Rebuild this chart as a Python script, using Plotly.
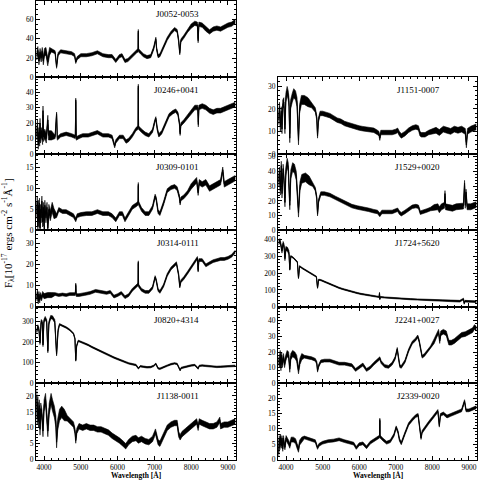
import plotly.graph_objects as go
from bisect import bisect_right

# ---------------- data ----------------
J0052_wl = [3800, 3830, 3860, 3890, 3920, 3950, 3980, 4010, 4050, 4100, 4150, 4200, 4300, 4340, 4380, 4450, 4600, 4750, 4830, 4861, 4900, 5000, 5150, 5300, 5450, 5600, 5750, 5850, 5950, 6050, 6120, 6200, 6280, 6400, 6520, 6556, 6563, 6570, 6620, 6700, 6800, 6900, 6980, 7040, 7060, 7100, 7150, 7250, 7350, 7450, 7550, 7620, 7660, 7690, 7720, 7800, 7900, 8000, 8100, 8170, 8190, 8210, 8300, 8400, 8500, 8600, 8700, 8800, 8900, 9000, 9100, 9200]
J0052_f = [22, 28, 17, 26, 20, 27, 17, 26, 27, 16, 27, 28, 26, 11, 24, 27, 26, 25, 23, 16, 20, 23, 23, 24, 26, 23, 22, 22, 17, 22, 23, 17, 18, 23, 27, 28, 48, 28, 26, 23, 21, 22, 30, 40, 30, 22, 23, 31, 40, 46, 50, 48, 38, 25, 38, 42, 48, 53, 56, 55, 38, 55, 54, 50, 47, 50, 51, 50, 52, 54, 55, 58]
J0052_noise_edges = [4200, 8000]
J0052_noise = [4, 1.6, 2.2]

J0246_wl = [3800, 3820, 3840, 3860, 3880, 3889, 3900, 3930, 3960, 3970, 3985, 4020, 4060, 4102, 4120, 4200, 4300, 4340, 4360, 4450, 4600, 4750, 4850, 4861, 4875, 4950, 5050, 5200, 5350, 5450, 5600, 5750, 5850, 5920, 5950, 6050, 6150, 6230, 6300, 6400, 6500, 6556, 6563, 6570, 6650, 6750, 6850, 6950, 7010, 7040, 7080, 7120, 7200, 7300, 7400, 7500, 7580, 7640, 7680, 7700, 7720, 7800, 7900, 8000, 8100, 8180, 8195, 8210, 8300, 8400, 8500, 8600, 8700, 8800, 8900, 9000, 9100, 9200]
J0246_f = [12, 19, 6, 14, 8, 20, 10, 14, 9, 28, 11, 13, 10, 22, 12, 12, 11, 26, 10, 12, 13, 12, 11, 35, 10, 11, 12, 12, 13, 14, 12, 12, 11, 5, 8, 11, 11, 8, 9, 12, 16, 17, 44, 17, 15, 13, 12, 15, 21, 23, 16, 12, 14, 20, 25, 27, 28, 26, 20, 13, 19, 21, 24, 27, 30, 30, 19, 30, 31, 30, 28, 27, 28, 28, 29, 30, 31, 32]
J0246_noise_edges = [4300, 8000]
J0246_noise = [3, 1.1, 1.5]

J0309_wl = [3800, 3815, 3830, 3845, 3860, 3875, 3890, 3905, 3920, 3940, 3960, 3980, 4000, 4020, 4050, 4080, 4100, 4130, 4170, 4220, 4270, 4340, 4400, 4500, 4600, 4700, 4800, 4861, 4900, 5000, 5150, 5300, 5450, 5600, 5750, 5850, 5950, 6050, 6130, 6200, 6300, 6400, 6520, 6556, 6563, 6570, 6650, 6750, 6850, 6950, 7020, 7050, 7100, 7150, 7250, 7350, 7450, 7550, 7620, 7680, 7700, 7720, 7800, 7900, 8000, 8100, 8150, 8190, 8220, 8300, 8400, 8500, 8600, 8700, 8800, 8860, 8900, 9000, 9100, 9200]
J0309_f = [4, 7, 1, 6, 2, 6.5, 0.5, 5, 3, 7, 2, 5.5, 1, 6, 3, 5.5, 0.5, 5, 3.5, 5.5, 4, 3.5, 5, 4.5, 4.5, 4, 3.5, 2.5, 3.5, 3.8, 4, 4, 4.5, 4, 4, 3.5, 2.5, 4, 4, 2.5, 4, 5.5, 6.2, 6.5, 11, 6.5, 5, 4, 4, 5.5, 8.2, 7.5, 4.5, 4, 6.5, 9.5, 10.2, 10.5, 10, 8, 6.5, 7.5, 8, 9, 10.5, 11.5, 12, 9, 11.5, 11, 11.5, 10, 10.5, 11, 11.5, 14.5, 11, 11.5, 12, 12.5]
J0309_noise_edges = [4300, 8000]
J0309_noise = [1.2, 0.45, 0.65]

J0314_wl = [3800, 3820, 3840, 3860, 3880, 3900, 3930, 3960, 4000, 4100, 4200, 4300, 4400, 4500, 4600, 4700, 4850, 4861, 4875, 4950, 5100, 5250, 5400, 5550, 5700, 5800, 5900, 6000, 6100, 6200, 6300, 6400, 6520, 6556, 6563, 6570, 6650, 6750, 6850, 6950, 7020, 7050, 7100, 7150, 7250, 7350, 7450, 7550, 7600, 7660, 7690, 7720, 7800, 7900, 8000, 8100, 8170, 8190, 8210, 8300, 8400, 8500, 8600, 8700, 8800, 8900, 9000, 9100, 9200]
J0314_f = [4, 7, 2.5, 6, 3, 5.5, 4, 6, 5, 5.5, 5.5, 6, 5.5, 5.8, 5.5, 6, 6, 10.5, 5.5, 5.5, 6, 6.5, 7.5, 7, 6.5, 7, 4.8, 5.5, 6.5, 4.5, 5.5, 8, 10, 10.5, 21, 10, 8, 7, 7, 9, 14, 12.5, 8, 7, 10, 15, 18, 20, 20.5, 15, 9.5, 12, 13.5, 16, 18.5, 21, 23, 17, 22, 22, 19.5, 20.5, 21.5, 22, 22.5, 22.5, 23, 24, 26]
J0314_noise_edges = [4300]
J0314_noise = [1.2, 0.65]

J0820_wl = [3800, 3830, 3860, 3889, 3920, 3950, 3970, 3995, 4030, 4070, 4102, 4130, 4180, 4230, 4290, 4340, 4380, 4420, 4500, 4600, 4700, 4800, 4840, 4861, 4885, 4930, 5000, 5100, 5200, 5300, 5400, 5500, 5600, 5700, 5800, 5900, 6000, 6100, 6200, 6300, 6400, 6500, 6563, 6620, 6700, 6800, 6900, 6980, 7040, 7060, 7100, 7150, 7250, 7350, 7450, 7550, 7620, 7670, 7700, 7730, 7800, 7900, 8000, 8100, 8190, 8220, 8300, 8400, 8500, 8600, 8700, 8800, 8900, 9000, 9100, 9200]
J0820_f = [250, 275, 260, 195, 300, 295, 185, 300, 315, 300, 155, 290, 320, 318, 300, 140, 255, 285, 278, 270, 258, 240, 215, 110, 180, 205, 200, 193, 185, 175, 166, 158, 148, 139, 131, 124, 117, 109, 102, 96, 92, 88, 72, 82, 80, 77, 78, 84, 94, 84, 72, 70, 76, 85, 92, 96, 93, 70, 63, 74, 78, 82, 86, 88, 71, 84, 86, 84, 82, 80, 79, 80, 81, 82, 83, 84]
J0820_noise_edges = [4400]
J0820_noise = [8, 3.5]

J1138_wl = [3800, 3815, 3830, 3850, 3870, 3889, 3910, 3940, 3970, 4000, 4040, 4070, 4102, 4140, 4190, 4230, 4280, 4320, 4340, 4370, 4420, 4480, 4550, 4630, 4720, 4800, 4840, 4861, 4890, 4950, 5050, 5150, 5250, 5350, 5450, 5550, 5650, 5750, 5850, 5950, 6050, 6150, 6220, 6300, 6400, 6500, 6563, 6650, 6750, 6850, 6950, 7030, 7060, 7100, 7150, 7250, 7350, 7450, 7550, 7620, 7660, 7700, 7750, 7850, 7950, 8050, 8150, 8190, 8220, 8300, 8400, 8500, 8600, 8700, 8780, 8800, 8900, 9000, 9100, 9200]
J1138_f = [20, 13, 18, 12, 17, 9.5, 16, 14, 9, 17, 19, 15, 9, 16, 19, 17, 15, 12, 5.5, 11, 14, 15, 14, 13, 12, 11, 9, 6, 9, 10.5, 10, 10.5, 10, 10, 9.5, 9.5, 9, 8.5, 7.5, 6.8, 6, 5, 4.2, 5.5, 6.5, 6.8, 6, 6.5, 5.8, 5.5, 6.5, 8.8, 7.5, 5.5, 5, 7.5, 10, 11, 11.5, 11.5, 8, 7, 8, 9, 10, 11, 12, 10, 12, 11.5, 11, 10.5, 10.5, 11, 12.5, 10.5, 11, 11, 11.5, 12]
J1138_noise_edges = [4600]
J1138_noise = [1.8, 0.85]

J1151_wl = [3800, 3820, 3845, 3870, 3889, 3910, 3940, 3970, 3995, 4030, 4060, 4080, 4102, 4125, 4170, 4210, 4260, 4300, 4340, 4370, 4420, 4500, 4600, 4700, 4800, 4840, 4861, 4885, 4930, 5000, 5100, 5200, 5300, 5400, 5500, 5600, 5700, 5800, 5900, 6000, 6100, 6200, 6300, 6400, 6500, 6540, 6563, 6590, 6700, 6800, 6900, 7000, 7050, 7100, 7150, 7250, 7350, 7450, 7550, 7620, 7660, 7700, 7800, 7900, 8000, 8100, 8190, 8300, 8400, 8500, 8600, 8700, 8800, 8900, 8930, 8960, 9050, 9150, 9200]
J1151_f = [15, 21, 12, 19, 11, 22, 23, 11, 25, 28, 26, 23, 7, 22, 25, 27, 26, 23, 6, 20, 24, 24, 23, 21.5, 19.5, 16, 8, 15, 18, 18, 17.5, 17, 16, 15, 14.5, 13.5, 13, 12.5, 11.8, 11.5, 11.2, 11, 11, 10.5, 9.5, 9, 7, 9.5, 9.5, 9.5, 9.5, 10, 10.5, 9, 8, 9, 10.5, 11.5, 12, 11.5, 9, 8.5, 8.5, 9.5, 10, 10.5, 9.5, 11, 10.5, 10, 11, 10.5, 11, 10, 4, 10, 11, 11.5, 12]
J1151_noise_edges = [4700, 8000]
J1151_noise = [2, 1.0, 1.3]

J1529_wl = [3800, 3820, 3845, 3870, 3889, 3920, 3945, 3970, 3995, 4030, 4060, 4102, 4130, 4180, 4230, 4280, 4340, 4380, 4430, 4530, 4630, 4730, 4800, 4840, 4861, 4890, 4950, 5050, 5200, 5350, 5500, 5650, 5800, 5950, 6100, 6250, 6400, 6500, 6563, 6620, 6750, 6900, 7000, 7050, 7100, 7150, 7250, 7350, 7450, 7550, 7620, 7670, 7750, 7850, 7950, 8050, 8150, 8190, 8250, 8330, 8345, 8360, 8450, 8550, 8650, 8750, 8850, 8880, 8900, 8920, 8950, 9050, 9150, 9200]
J1529_f = [33, 40, 27, 44, 25, 42, 34, 19, 40, 46, 43, 17, 38, 43, 42, 37, 12, 30, 35, 36, 34, 31, 28, 22, 11, 20, 25, 25, 24, 22, 20, 18, 16.5, 15.5, 15, 14, 13, 12.5, 10.5, 12.5, 12.5, 12.5, 13.5, 14, 12, 11, 12.5, 14.5, 16, 16.5, 16, 12, 12.5, 13.5, 14.5, 15.5, 16, 14, 16, 17, 25, 16, 15.5, 15, 16, 16, 16.5, 32, 17, 26, 16, 16, 17, 17.5]
J1529_noise_edges = [4700, 8000]
J1529_noise = [3, 1.2, 2]

J1724_wl = [3800, 3830, 3860, 3889, 3920, 3945, 3970, 3995, 4040, 4080, 4102, 4130, 4200, 4270, 4310, 4340, 4370, 4450, 4550, 4650, 4750, 4830, 4861, 4890, 4950, 5050, 5150, 5250, 5350, 5450, 5550, 5650, 5750, 5850, 5950, 6050, 6150, 6250, 6350, 6450, 6545, 6555, 6563, 6575, 6700, 6850, 7000, 7200, 7400, 7600, 7800, 8000, 8200, 8400, 8600, 8750, 8850, 8870, 8890, 9000, 9100, 9200]
J1724_f = [380, 392, 365, 330, 375, 360, 285, 345, 340, 320, 220, 300, 290, 275, 265, 170, 240, 228, 215, 200, 188, 178, 112, 160, 158, 148, 140, 130, 120, 112, 105, 98, 92, 86, 81, 76, 72, 68, 64, 61, 58, 82, 45, 58, 55, 52, 50, 47, 45, 43, 41, 39, 37, 35, 34, 33, 46, 20, 33, 32, 31, 30]
J1724_noise_edges = [4100, 8000]
J1724_noise = [12, 3.5, 5]

J2241_wl = [3800, 3820, 3840, 3860, 3880, 3900, 3930, 3960, 3990, 4030, 4070, 4102, 4130, 4180, 4240, 4290, 4340, 4380, 4430, 4500, 4600, 4700, 4800, 4840, 4861, 4890, 4950, 5050, 5200, 5350, 5450, 5600, 5700, 5800, 5900, 6000, 6100, 6200, 6300, 6400, 6500, 6563, 6600, 6700, 6800, 6900, 6980, 7040, 7070, 7110, 7150, 7250, 7350, 7450, 7540, 7600, 7640, 7680, 7720, 7780, 7850, 7950, 8050, 8120, 8170, 8200, 8230, 8300, 8380, 8450, 8520, 8600, 8700, 8800, 8900, 9000, 9100, 9150, 9200]
J2241_f = [15, 12, 19, 10, 18, 12, 17, 12, 16, 19, 18, 9, 17, 19, 18, 16, 8, 14, 17, 17, 16.5, 16, 15, 13, 8, 11, 14, 14.5, 14.5, 13.5, 12.5, 12.5, 12, 11.5, 8.5, 10.5, 12, 8.5, 10, 12.5, 15, 16, 13.5, 11, 10.5, 12.5, 16, 22, 17, 11, 10.5, 14, 21, 26, 28, 30, 27, 22, 17, 18, 20, 23, 27, 31, 33, 27, 32, 33, 32, 26, 26, 27, 29, 31, 31.5, 33, 34, 36, 35]
J2241_noise_edges = [4500, 8000]
J2241_noise = [2, 0.9, 1.5]

J2339_wl = [3800, 3815, 3830, 3850, 3870, 3889, 3910, 3930, 3950, 3970, 4000, 4030, 4070, 4102, 4140, 4200, 4260, 4300, 4340, 4370, 4430, 4500, 4600, 4700, 4800, 4861, 4900, 5000, 5150, 5300, 5450, 5600, 5750, 5850, 5920, 6000, 6100, 6200, 6300, 6420, 6520, 6556, 6563, 6570, 6650, 6750, 6850, 6950, 7010, 7060, 7100, 7150, 7250, 7350, 7450, 7550, 7610, 7650, 7690, 7720, 7800, 7900, 8000, 8100, 8150, 8190, 8220, 8300, 8400, 8500, 8600, 8700, 8800, 8880, 8920, 9000, 9100, 9200]
J2339_f = [2, 7, 4, 7.5, 4.5, 7, 3.5, 7, 5, 4, 7, 6.5, 5.5, 4.5, 6.5, 6.5, 6, 4.5, 3.2, 5.5, 6.5, 7.2, 6.8, 6.5, 6, 3.8, 4.8, 5.5, 6, 6.2, 6.6, 6, 5.5, 5.2, 3.8, 5, 5.3, 4, 5.5, 6.5, 7.2, 7.5, 13, 7.5, 6.5, 5.5, 6, 8, 10.5, 9, 6.5, 5.3, 8.5, 11.5, 13, 14.2, 14.5, 11, 7, 9, 10.5, 12, 13.5, 15, 15.8, 11, 14.5, 15, 14, 14.5, 15, 15.5, 16, 19, 16, 16, 16.5, 17]
J2339_noise_edges = [4500]
J2339_noise = [0.8, 0.45]

names = ["J0052-0053", "J0246+0041", "J0309-0101", "J0314-0111", "J0820+4314", "J1138-0011",
         "J1151-0007", "J1529+0020", "J1724+5620", "J2241+0027", "J2339-0020"]
wls = [J0052_wl, J0246_wl, J0309_wl, J0314_wl, J0820_wl, J1138_wl,
       J1151_wl, J1529_wl, J1724_wl, J2241_wl, J2339_wl]
fluxes = [J0052_f, J0246_f, J0309_f, J0314_f, J0820_f, J1138_f,
          J1151_f, J1529_f, J1724_f, J2241_f, J2339_f]
noise_edges = [J0052_noise_edges, J0246_noise_edges, J0309_noise_edges, J0314_noise_edges,
               J0820_noise_edges, J1138_noise_edges, J1151_noise_edges, J1529_noise_edges,
               J1724_noise_edges, J2241_noise_edges, J2339_noise_edges]
noise_vals = [J0052_noise, J0246_noise, J0309_noise, J0314_noise, J0820_noise, J1138_noise,
              J1151_noise, J1529_noise, J1724_noise, J2241_noise, J2339_noise]

# axis settings per panel: y max, major step, minor step
y_max = [79, 49.5, 18.3, 36, 370, 24, 34, 52, 453, 49, 24.8]
y_dtick = [20, 10, 5, 10, 100, 5, 10, 10, 100, 10, 5]
y_minor = [5, 2, 1, 2, 20, 1, 2, 2, 20, 2, 1]
x_ticks = [4000, 5000, 6000, 7000, 8000, 9000]

# ---------------- layout geometry (pixels) ----------------
W, H = 480, 485
COLS = [(36, 236), (278, 477)]
ROW_TOP, ROW_H = 0.0, 77.4
placement = [(0, 0), (0, 1), (0, 2), (0, 3), (0, 4), (0, 5),
             (1, 1), (1, 2), (1, 3), (1, 4), (1, 5)]

FONT = "Liberation Serif"
fig = go.Figure()
layout = dict(width=W, height=H, margin=dict(l=0, r=0, t=0, b=0),
              paper_bgcolor="white", plot_bgcolor="white", showlegend=False,
              font=dict(family=FONT, color="black", size=8))
annotations = []

for i in range(len(names)):
    k = i + 1
    col, row = placement[i]
    x0, x1 = COLS[col]
    top = ROW_TOP + row * ROW_H
    bot = top + ROW_H
    xa = "x" if k == 1 else f"x{k}"
    ya = "y" if k == 1 else f"y{k}"
    wl = wls[i]
    f = fluxes[i]
    err = [noise_vals[i][bisect_right(noise_edges[i], w)] for w in wl]
    lower = [a - e for a, e in zip(f, err)]
    upper = [a + e for a, e in zip(f, err)]
    fig.add_trace(go.Scatter(x=wl, y=lower, mode="lines", line=dict(color="black", width=0.6),
                             xaxis=xa, yaxis=ya, hoverinfo="skip"))
    fig.add_trace(go.Scatter(x=wl, y=upper, mode="lines", line=dict(color="black", width=0.6),
                             fill="tonexty", fillcolor="black", xaxis=xa, yaxis=ya, hoverinfo="skip"))
    fig.add_trace(go.Scatter(x=wl, y=f, mode="lines", line=dict(color="black", width=1),
                             xaxis=xa, yaxis=ya))
    bottom_row = (row == 5)
    common = dict(showline=True, linecolor="black", linewidth=1, mirror="allticks",
                  ticks="inside", ticklen=4, tickwidth=1, tickcolor="black",
                  showgrid=False, zeroline=False,
                  tickfont=dict(family=FONT, size=7.5, color="black"))
    layout["xaxis" if k == 1 else f"xaxis{k}"] = dict(
        domain=[x0 / W, x1 / W], range=[3780, 9220], anchor=ya,
        tickvals=x_ticks, showticklabels=bottom_row,
        minor=dict(dtick=200, tick0=0, ticks="inside", ticklen=2, tickcolor="black"),
        **common)
    layout["yaxis" if k == 1 else f"yaxis{k}"] = dict(
        domain=[1 - bot / H, 1 - top / H], range=[0, y_max[i]], anchor=xa,
        dtick=y_dtick[i], tick0=0,
        minor=dict(dtick=y_minor[i], tick0=0, ticks="inside", ticklen=2, tickcolor="black"),
        **common)
    annotations.append(dict(text=names[i], xref="paper", yref="paper",
                            x=(x0 + 0.825 * (x1 - x0)) / W, y=1 - (top + 13) / H,
                            xanchor="right", yanchor="middle", showarrow=False,
                            font=dict(family=FONT, size=9, color="black")))

for (x0, x1) in COLS:
    annotations.append(dict(text="<b>Wavelength [Å]</b>", xref="paper", yref="paper",
                            x=(x0 + x1) / 2 / W, y=1 - 480.5 / H, xanchor="center", yanchor="middle",
                            showarrow=False, font=dict(family=FONT, size=7.5, color="black")))

annotations.append(dict(text="F<sub>λ</sub>[10<sup>-17</sup> ergs cm<sup>-2</sup> s<sup>-1</sup>Å<sup>-1</sup>]",
                        xref="paper", yref="paper", x=8 / W, y=1 - 235 / H, textangle=-90,
                        xanchor="center", yanchor="middle", showarrow=False,
                        font=dict(family=FONT, size=11, color="black")))

layout["annotations"] = annotations
fig.update_layout(**layout)
fig.write_html("out.html", config={"displayModeBar": False},
               post_script="document.body.style.margin='0px';document.body.style.padding='0px';document.body.style.overflow='hidden';")
